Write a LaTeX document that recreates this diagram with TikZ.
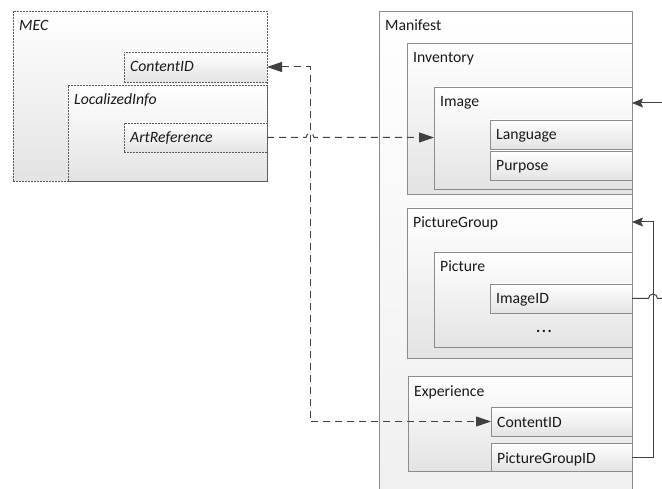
\documentclass[tikz,border=0pt]{standalone}
\usepackage{fontspec}
\setmainfont{Carlito}
\usetikzlibrary{arrows.meta}
\newcommand\mybox[7]{%
  \node[#6, minimum width={(#4-#2)*1pt}, minimum height={(#5-#3)*1pt}, anchor=north west] (#1) at (#2,#3) {};
  \node[lbl, anchor=base west] at ({#2+6},{#3+20}) {#7};}
\begin{document}
\begin{tikzpicture}[x=1pt,y=-1pt,
  font=\fontsize{15.7}{18}\selectfont,
  sbox/.style={draw=black!45, line width=0.8pt, inner sep=0pt, outer sep=0pt, top color=white, bottom color=black!11},
  dbox/.style={draw=black!65, line width=0.6pt, dash pattern=on 2pt off 1pt, inner sep=0pt, outer sep=0pt, top color=white, bottom color=black!11},
  nbox/.style={draw=none, inner sep=0pt, outer sep=0pt, top color=white, bottom color=black!6},
  lbl/.style={inner sep=0pt, text=black!90},
  dcon/.style={draw=black!75, line width=1pt, dash pattern=on 7pt off 5pt},
  scon/.style={draw=black!75, line width=1pt},
  dhead/.tip={Triangle[length=15pt,width=10pt]},
  shead/.tip={Stealth[length=11pt,width=9pt,inset=2pt]},
]
\useasboundingbox (0,0) rectangle (662,489);
% MEC
\mybox{mec}{13}{11}{267}{181}{dbox}{\itshape MEC}
\mybox{mcid}{124}{52}{267}{82}{dbox}{\itshape ContentID}
\mybox{loc}{68}{85}{267}{181}{dbox}{\itshape LocalizedInfo}
\mybox{art}{124}{123}{267}{152}{dbox}{\itshape ArtReference}
% Manifest
\mybox{man}{379}{11}{632}{489}{nbox}{Manifest}
\draw[draw=black!45, line width=0.8pt] (man.south west) -- (man.north west) -- (man.north east) -- (man.south east);
\mybox{inv}{407}{43}{632}{194}{sbox}{Inventory}
\mybox{img}{434}{87}{632}{189}{sbox}{Image}
\mybox{lang}{490}{120}{632}{149}{sbox}{Language}
\mybox{purp}{490}{151}{632}{180}{sbox}{Purpose}
\mybox{pg}{407}{208}{632}{358}{sbox}{PictureGroup}
\mybox{pic}{434}{252}{632}{347}{sbox}{Picture}
\mybox{imgid}{490}{284}{632}{313}{sbox}{ImageID}
\node[lbl] (dots) at (544,331) {\textbf{.\kern1.5pt.\kern1.5pt.}};
\mybox{exp}{408}{376}{632}{471}{sbox}{Experience}
\mybox{ecid}{491}{407}{632}{436}{sbox}{ContentID}
\mybox{pgid}{491}{443}{632}{471}{sbox}{PictureGroupID}
% connector helpers
\coordinate (j1) at (310,0);
\coordinate (j2) at (653,0);
\coordinate (r1) at (662,298.5);
\coordinate (r2) at (662,103);
\coordinate (pgin) at ([yshift=-14pt]pg.north east);
% dashed connectors
\draw[dcon, dhead-dhead]
  (mcid.east) -- (j1 |- mcid.east) -- (j1 |- ecid.west) -- (ecid.west);
\draw[dcon, -dhead] (art.east) -- ([xshift=-4pt]j1 |- art.east)
  arc[start angle=180, end angle=0, radius=4pt] -- (img.west |- art.east);
% solid connectors
\draw[scon, -shead] (r2) -- (img.east |- r2);
\draw[scon] (imgid.east) -- ([xshift=-4.5pt]j2 |- imgid.east)
  arc[start angle=180, end angle=0, radius=4.5pt] -- (r1);
\draw[scon, -shead] (pgid.east) -- (j2 |- pgid.east)
  -- (j2 |- pgin) -- (pgin);
\end{tikzpicture}
\end{document}
